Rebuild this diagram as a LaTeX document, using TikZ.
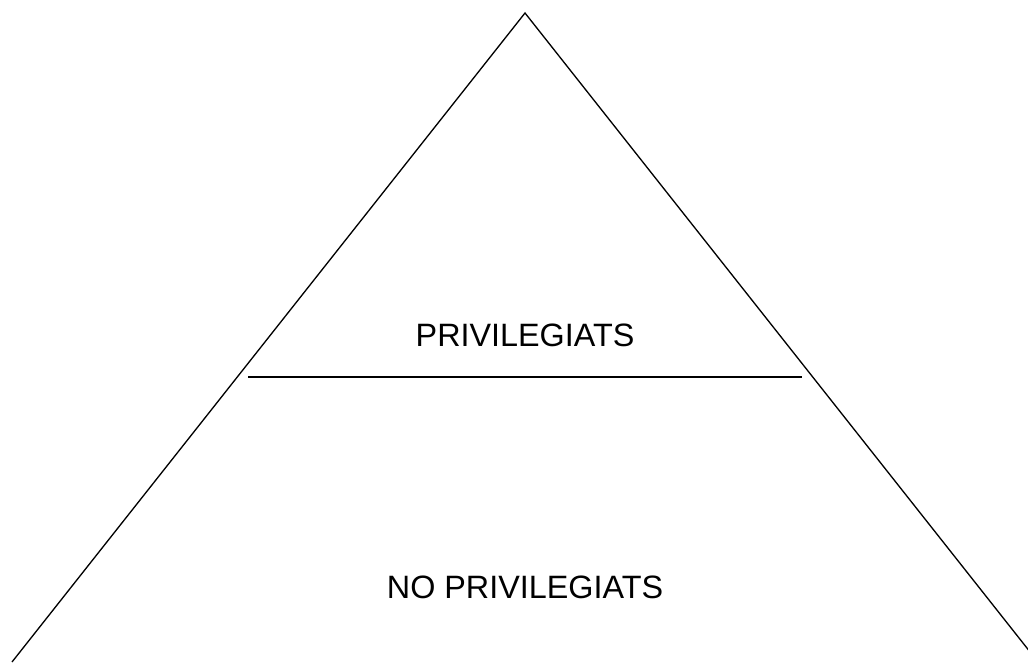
\documentclass[tikz,border=0pt]{standalone}
\usepackage{fontspec}
\setmainfont{Liberation Sans}
\usepackage{tikz}
\usetikzlibrary{positioning}

\begin{document}
\begin{tikzpicture}[line width=0.75pt, label/.style={font=\fontsize{18.4}{20}\selectfont, inner sep=0pt}]
    \useasboundingbox (0,0) rectangle (20.56,13.24);
    \clip (0,0) rectangle (20.56,13.24);
    \coordinate (top) at (10.5,12.98);
    \coordinate (bl) at (0.24,0);
    \coordinate (br) at (20.76,0);
    \coordinate (sl) at (4.96,5.7);
    \coordinate (sr) at (16.04,5.7);
    \draw (bl) -- (top) -- (br);
    \draw[line width=0.9pt] (sl) -- (sr);
    \node[label] (priv) at (10.5,6.54) {PRIVILEGIATS};
    \node[label] (nopriv) at (10.5,1.5) {NO PRIVILEGIATS};
  \end{tikzpicture}
\end{document}
